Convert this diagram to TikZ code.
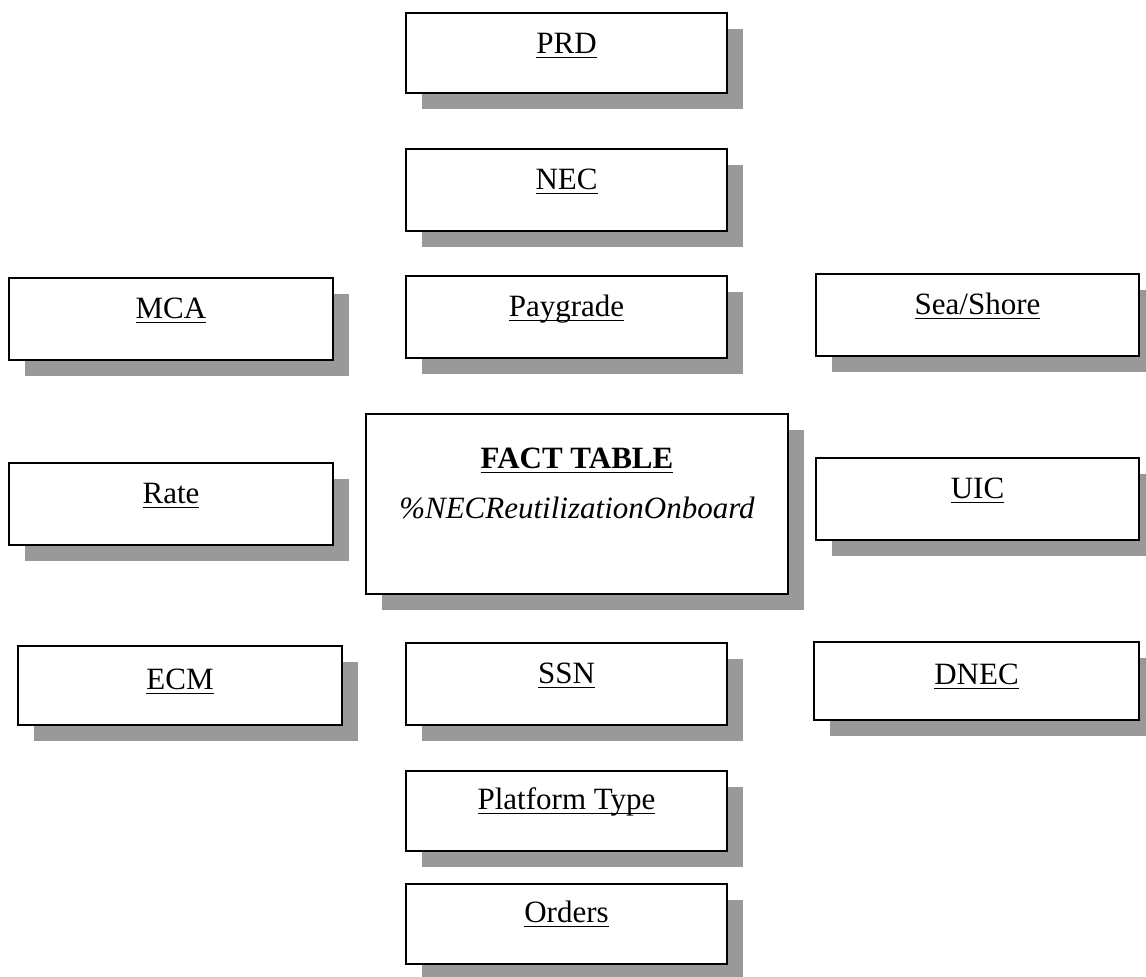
\documentclass[tikz,border=0pt]{standalone}
\usepackage{fontspec}
\setmainfont{Liberation Serif}
\usepackage{tikz}
\usetikzlibrary{shadows}

% underlined label: rule at a fixed depth under the baseline
\newcommand{\ulabel}[1]{\leavevmode\vtop{\setbox0\hbox{#1}\dp0=0pt\box0\kern1.8pt\hrule height 0.8pt}}

\tikzset{
    dimbox/.style={draw, line width=1pt, fill=white, anchor=north west, inner sep=0pt,
        minimum width=160.5pt, text height=20pt, text depth=21pt,
        font=\fontsize{15.5pt}{18pt}\selectfont,
        drop shadow={shadow xshift=8pt, shadow yshift=-8pt, fill=black!40, opacity=1}},
    sidebox/.style={dimbox, minimum width=162pt},
    facttext/.style={anchor=base, inner sep=0pt, font=\fontsize{15.5pt}{18pt}\selectfont}
}

\begin{document}
\begin{tikzpicture}[x=0.5pt, y=0.5pt]
    \useasboundingbox (0,0) rectangle (1146,-976);

    % Center column
    \node[dimbox, text depth=20pt] (prd) at (405,-12) {\ulabel{PRD}};
    \node[dimbox] (nec) at (405,-148) {\ulabel{NEC}};
    \node[dimbox] (paygrade) at (405,-275) {\ulabel{Paygrade}};
    \node[dimbox] (ssn) at (405,-642) {\ulabel{SSN}};
    \node[dimbox, text height=19pt, text depth=21pt] (platform) at (405,-770) {\ulabel{Platform Type}};
    \node[dimbox, text height=19pt, text depth=21pt] (orders) at (405,-883) {\ulabel{Orders}};

    % Left column
    \node[sidebox] (mca) at (8,-277) {\ulabel{MCA}};
    \node[sidebox] (rate) at (8,-462) {\ulabel{Rate}};
    \node[sidebox, text height=21.5pt, text depth=18pt] (ecm) at (17,-645) {\ulabel{ECM}};

    % Right column
    \node[sidebox, minimum width=161.5pt] (seashore) at (815,-273) {\ulabel{Sea/Shore}};
    \node[sidebox, minimum width=161.5pt] (uic) at (815,-457) {\ulabel{UIC}};
    \node[sidebox, minimum width=162.5pt, text height=21pt, text depth=18pt] (dnec) at (813,-641) {\ulabel{DNEC}};

    % Fact table
    \node[dimbox, minimum width=211pt, minimum height=90pt, text height=0pt, text depth=0pt] (fact) at (365,-413) {};
    \node[facttext] (facttitle) at ([yshift=-27.5pt]fact.north) {\ulabel{\textbf{FACT TABLE}}};
    \node[facttext] (factmeasure) at ([yshift=-52.5pt]fact.north) {\textit{\%NECReutilizationOnboard}};
\end{tikzpicture}
\end{document}
